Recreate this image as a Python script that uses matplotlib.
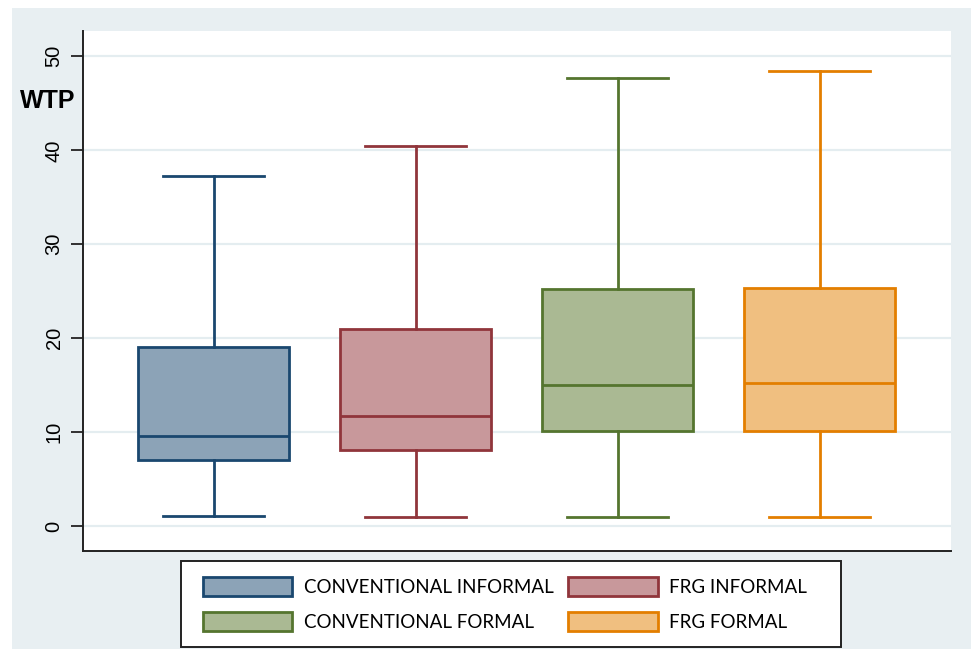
import matplotlib

matplotlib.use("Agg")
import matplotlib.pyplot as plt
from matplotlib.patches import Patch, Rectangle

# Box statistics for willingness to pay, one entry per group
groups = ["CONVENTIONAL INFORMAL", "FRG INFORMAL", "CONVENTIONAL FORMAL", "FRG FORMAL"]
whisker_low = [1.1, 1.0, 1.0, 1.0]
q1 = [7.0, 8.1, 10.15, 10.15]
median = [9.55, 11.75, 15.0, 15.2]
q3 = [19.1, 21.0, 25.2, 25.3]
whisker_high = [37.3, 40.5, 47.7, 48.4]

edge_colors = ["#1a476f", "#90353b", "#55752f", "#e37e00"]
fill_colors = ["#8ca3b7", "#c8989b", "#aab993", "#f0bf80"]
yticks = [0, 10, 20, 30, 40, 50]

BG = "#e8eff2"
GRID = "#e4edf0"
W, H = 971, 649

fig = plt.figure(figsize=(W / 100, H / 100), dpi=100)
fig.patch.set_facecolor("white")
# Stata-style outer graph region
fig.add_artist(Rectangle((12 / W, 0), 1, 1 - 8 / H, transform=fig.transFigure,
                         facecolor=BG, edgecolor="none", zorder=-10))

ax = fig.add_axes([83 / W, (H - 551) / H, (951 - 83) / W, (551 - 31) / H])
ax.set_facecolor("white")

stats = []
for i, name in enumerate(groups):
    stats.append({
        "label": name,
        "whislo": whisker_low[i],
        "q1": q1[i],
        "med": median[i],
        "q3": q3[i],
        "whishi": whisker_high[i],
        "fliers": [],
    })

positions = [1, 2, 3, 4]
bp = ax.bxp(stats, positions=positions, widths=0.75, patch_artist=True,
            showfliers=False, capwidths=0.5)
for i in range(4):
    bp["boxes"][i].set(facecolor=fill_colors[i], edgecolor=edge_colors[i], linewidth=2)
    bp["medians"][i].set(color=edge_colors[i], linewidth=2)
    for line in bp["whiskers"][2 * i:2 * i + 2] + bp["caps"][2 * i:2 * i + 2]:
        line.set(color=edge_colors[i], linewidth=2)

ax.set_xlim(0.354, 4.65)
ax.set_ylim(-2.65, 52.7)
ax.set_xticks([])
ax.set_yticks(yticks)
ax.set_yticklabels([str(t) for t in yticks], rotation=90, va="center",
                   fontsize=14.5, family="Liberation Sans")
ax.tick_params(axis="y", length=9, width=1.3, pad=5, color="#222222")
ax.yaxis.grid(True, color=GRID, linewidth=1.6)
ax.set_axisbelow(True)

for side in ("top", "right"):
    ax.spines[side].set_visible(False)
for side in ("left", "bottom"):
    ax.spines[side].set_linewidth(1.4)
    ax.spines[side].set_color("#222222")

ax.set_ylabel("WTP", rotation=0, fontsize=18, fontweight="bold",
              family="Liberation Sans", va="center", ha="center")
ax.yaxis.set_label_coords(-0.041, 0.866)

# legend box drawn separately so its padding can be set freely
fig.add_artist(Rectangle((181 / W, 2 / H), 660 / W, 86 / H, transform=fig.transFigure,
                         facecolor="white", edgecolor="#222222", linewidth=1.4, zorder=5))

handles = [Patch(facecolor=fill_colors[i], edgecolor=edge_colors[i], linewidth=2,
                 label=groups[i]) for i in range(4)]
# column-wise fill gives: row 1 conventional/FRG informal, row 2 formal
order = [0, 2, 1, 3]
leg = fig.legend([handles[i] for i in order], [groups[i] for i in order],
                 ncol=2, loc="upper left", bbox_to_anchor=(203 / W, 1 - 577 / H),
                 prop={"family": "Lato", "size": 13.5}, frameon=False,
                 handlelength=4.75, handleheight=1.17, handletextpad=0.62,
                 columnspacing=0.8, labelspacing=0.88, borderpad=0,
                 borderaxespad=0)
leg.set_zorder(6)

fig.savefig("out.png", dpi=100)
